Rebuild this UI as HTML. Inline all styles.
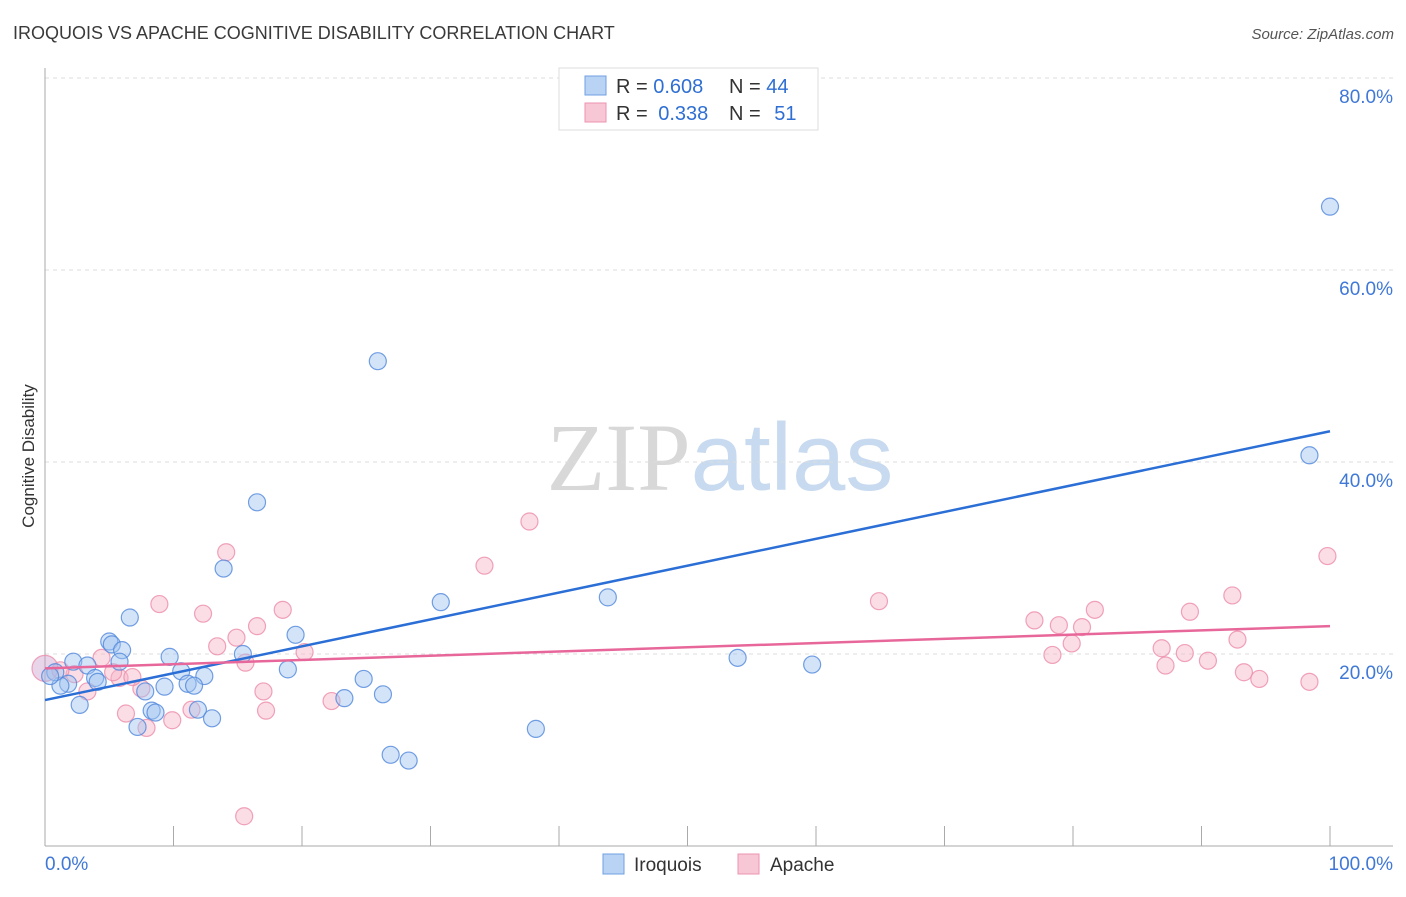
<!DOCTYPE html>
<html><head><meta charset="utf-8"><style>
body{margin:0;background:#fff;font-family:"Liberation Sans",sans-serif}
svg text{font-family:"Liberation Sans",sans-serif}
</style></head><body>
<svg id="chart" width="1406" height="892" viewBox="0 0 1406 892" xmlns="http://www.w3.org/2000/svg">
<text x="13" y="39" font-size="18" fill="#3a3a3a">IROQUOIS VS APACHE COGNITIVE DISABILITY CORRELATION CHART</text>
<text x="1394" y="39" font-size="15" font-style="italic" fill="#555" text-anchor="end">Source: ZipAtlas.com</text>
<text x="720" y="490" font-size="96" text-anchor="middle"><tspan fill="#d8d8d8" font-family="Liberation Serif">ZIP</tspan><tspan fill="#c8daf0">atlas</tspan></text>
<g id="grid"></g>
<g id="axes"></g>
<text transform="translate(34,456) rotate(-90)" font-size="17" fill="#333" text-anchor="middle">Cognitive Disability</text>
<g id="points"></g>
<g id="lines"></g>
<g>
<rect x="559" y="68" width="259" height="62" fill="#fff" stroke="#ddd"/>
<rect x="585" y="76" width="21" height="19" fill="#b9d3f5" stroke="#6f9fe0"/>
<rect x="585" y="103" width="21" height="19" fill="#f8c7d6" stroke="#ec93b0"/>
<text x="616" y="93" font-size="20" fill="#333">R = <tspan fill="#2f6fd3">0.608</tspan></text>
<text x="729" y="93" font-size="20" fill="#333">N = <tspan fill="#2f6fd3">44</tspan></text>
<text x="616" y="120" font-size="20" fill="#333">R = <tspan fill="#2f6fd3" dx="5">0.338</tspan></text>
<text x="729" y="120" font-size="20" fill="#333">N = <tspan fill="#2f6fd3" dx="8">51</tspan></text>
</g>
<g>
<rect x="603" y="854" width="21" height="20" fill="#b9d3f5" stroke="#6f9fe0"/>
<text x="634" y="871" font-size="19" fill="#333">Iroquois</text>
<rect x="738" y="854" width="21" height="20" fill="#f8c7d6" stroke="#ec93b0"/>
<text x="770" y="871" font-size="19" fill="#333">Apache</text>
</g>
</svg>
<script>
const yTicks=[20,40,60,80];
const xTickLabels=["0.0%","100.0%"];
const iroX=[100,98.4,25.9,16.5,13.9,30.8,43.8,53.9,59.7,38.2,26.9,28.3,6.6,5.0,5.2,6.0,5.8,9.7,15.4,19.5,18.9,10.6,12.4,11.1,11.6,9.3,7.8,24.8,26.3,23.3,8.3,8.6,11.9,13.0,7.2,2.7,2.2,3.3,3.9,4.1,1.8,1.2,0.8,0.4];
const iroY=[66.6,40.7,50.5,35.8,28.9,25.4,25.9,19.6,18.9,12.2,9.5,8.9,23.8,21.3,21.0,20.4,19.2,19.7,20.0,22.0,18.4,18.2,17.7,16.9,16.7,16.6,16.1,17.4,15.8,15.4,14.1,13.9,14.2,13.3,12.4,14.7,19.2,18.8,17.5,17.1,16.9,16.7,18.1,17.7];
const apaX=[15.5,37.7,34.2,14.1,8.9,12.3,18.5,16.5,14.9,13.4,20.2,15.6,17.0,17.2,22.3,11.4,9.9,7.9,6.3,7.5,3.3,4.4,5.8,6.8,5.3,2.3,1.2,0,64.9,77.0,78.9,80.7,81.7,78.4,79.9,86.9,87.2,88.7,89.1,90.5,92.4,92.8,93.3,94.5,98.4,99.8];
const apaY=[3.1,33.8,29.2,30.6,25.2,24.2,24.6,22.9,21.7,20.8,20.2,19.1,16.1,14.1,15.1,14.2,13.1,12.3,13.8,16.4,16.1,19.6,17.5,17.6,18.1,17.9,18.3,18.5,25.5,23.5,23.0,22.8,24.6,19.9,21.1,20.6,18.8,20.1,24.4,19.3,26.1,21.5,18.1,17.4,17.1,30.2];
const iroTrend=[15.2,43.2];
const apaTrend=[18.5,22.9];
const NS="http://www.w3.org/2000/svg";
const sx=v=>45+v*12.85, sy=v=>846-v*9.6;
function mk(tag,attrs,parent){const e=document.createElementNS(NS,tag);for(const k in attrs)e.setAttribute(k,attrs[k]);document.getElementById(parent).appendChild(e);return e;}
yTicks.forEach(t=>{
 const g=mk('line',{x1:45,x2:1393,y1:sy(t),y2:sy(t),stroke:'#ddd','stroke-dasharray':'4,4'},'grid');
 
 
 const l=mk('text',{x:1393,y:sy(t)+25,'font-size':19,fill:'#3f78d6','text-anchor':'end'},'grid');
 l.textContent=t.toFixed(1)+'%';
 
 
});
const ax=mk('line',{x1:45,x2:1393,y1:846,y2:846,stroke:'#aaa'},'axes');


const ay=mk('line',{x1:45,x2:45,y1:68,y2:846,stroke:'#aaa'},'axes');


for(let i=0;i<=10;i++){
 const t=mk('line',{x1:sx(i*10),x2:sx(i*10),y1:826,y2:846,stroke:'#aaa'},'axes');
 
 
}
[[0,'start',45],[1,'end',1393]].forEach(([i,a,x])=>{
 const l=mk('text',{x:x,y:870,'font-size':19,fill:'#3f78d6','text-anchor':a},'axes');
 l.textContent=xTickLabels[i];
 
 
});
apaX.forEach((x,i)=>{
 const c=mk('circle',{cx:sx(x),cy:sy(apaY[i]),r:(x===0?13:8.5),fill:(x===0?'rgba(200,150,200,0.4)':'rgba(246,180,200,0.45)'),stroke:'rgba(236,140,170,0.8)','stroke-width':1.2},'points');
 
 
});
iroX.forEach((x,i)=>{
 const c=mk('circle',{cx:sx(x),cy:sy(iroY[i]),r:8.5,fill:'rgba(160,195,240,0.45)',stroke:'rgba(80,135,220,0.8)','stroke-width':1.2},'points');
 
 
});
const l1=mk('line',{x1:sx(0),y1:sy(iroTrend[0]),x2:sx(100),y2:sy(iroTrend[1]),stroke:'#2b6fd6','stroke-width':2.5},'lines');


const l2=mk('line',{x1:sx(0),y1:sy(apaTrend[0]),x2:sx(100),y2:sy(apaTrend[1]),stroke:'#e8679a','stroke-width':2.5},'lines');


</script>
</body></html>
